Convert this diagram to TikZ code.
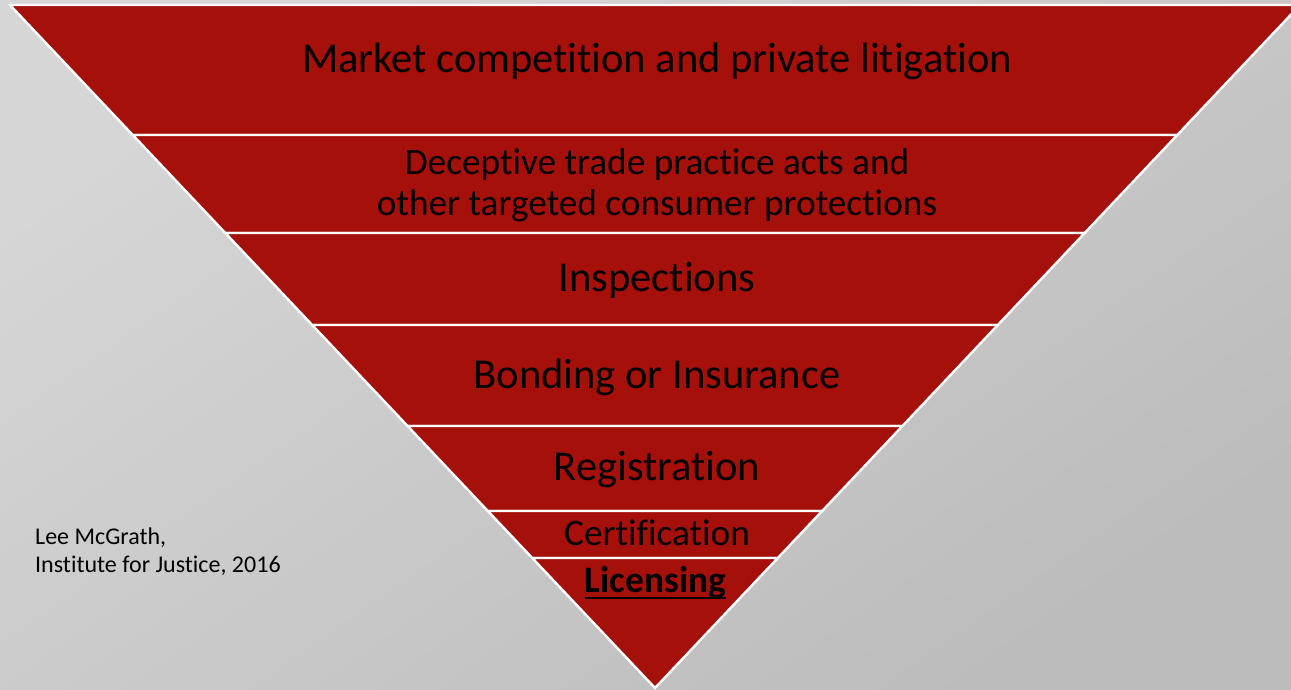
\documentclass[tikz,border=0pt]{standalone}
\usepackage{fontspec}
\setmainfont{Carlito}[Ligatures={NoCommon}]
\definecolor{bandred}{RGB}{165,16,10}
\definecolor{bgA}{RGB}{214,214,214}
\definecolor{bgB}{RGB}{188,188,188}
\begin{document}
\begin{tikzpicture}[x=1pt,y=-1pt,
  band/.style={fill=bandred,draw=white,line width=2.4pt,line join=miter},
  bigtxt/.style={font=\fontsize{42.5}{48}\selectfont,text=black,inner sep=0pt,anchor=base},
  midtxt/.style={font=\fontsize{37.3}{41}\selectfont,text=black,inner sep=0pt},
  credit/.style={font=\fontsize{24}{27.5}\selectfont,text=black,inner sep=0pt,align=left,anchor=north west}]
\useasboundingbox (0,0) rectangle (1291,690);
\shade[shading=axis,top color=bgA,bottom color=bgB,shading angle=35] (0,0) rectangle (1291,690);
\begin{scope}
\clip (0,0) rectangle (1291,690);
\foreach \a/\b in {5/135,135/233,233/325,325/426,426/511,511/558,558/688}{
  \pgfmathsetmacro\la{655-0.9444*(688-\a)}
  \pgfmathsetmacro\ra{655+0.9444*(688-\a)}
  \pgfmathsetmacro\lb{655-0.9444*(688-\b)}
  \pgfmathsetmacro\rb{655+0.9444*(688-\b)}
  \path[band] (\la,\a) -- (\ra,\a) -- (\rb,\b) -- (\lb,\b) -- cycle;
}
\end{scope}
\node[bigtxt] (market) at (657,73) {Market competition and private litigation};
\node[midtxt,align=center,anchor=center] (dtpa) at (657,185) {Deceptive trade practice acts and\\other targeted consumer protections};
\node[bigtxt] (insp) at (657,291) {Inspections};
\node[bigtxt] (bond) at (657,388) {Bonding or Insurance};
\node[bigtxt] (reg) at (657,480) {Registration};
\node[midtxt,anchor=base] (cert) at (657,545) {Certification};
\node[midtxt,anchor=base,font=\fontsize{37.3}{41}\selectfont\bfseries] (lic) at (655.5,592) {Licensing};
\draw[line width=2.4pt,black] ([yshift=-6pt]lic.base west) -- ([yshift=-6pt]lic.base east);
\node[credit] (author) at (35,528) {Lee McGrath,\\Institute for Justice, 2016};
\end{tikzpicture}
\end{document}
